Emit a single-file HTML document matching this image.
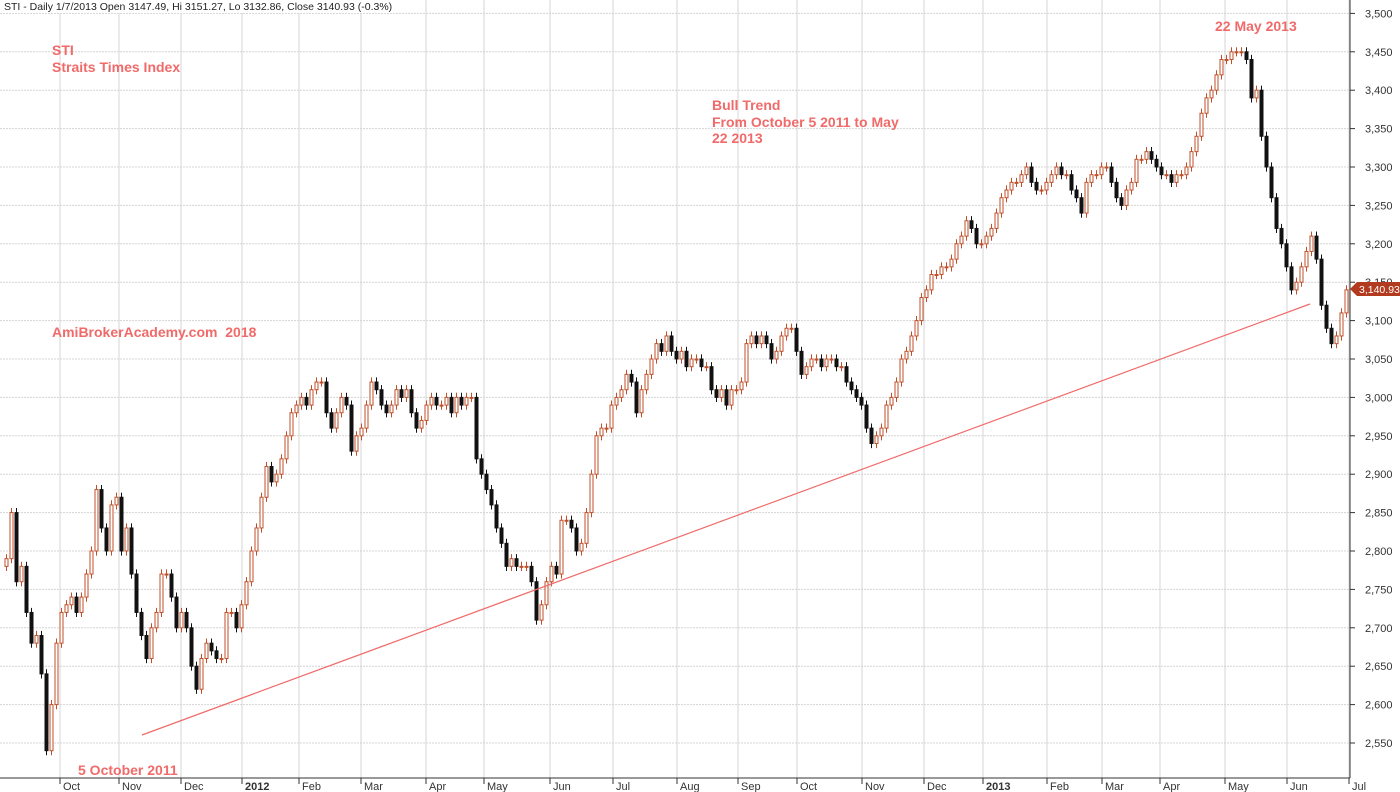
<!DOCTYPE html>
<html><head><meta charset="utf-8"><style>
body{margin:0;background:#fff;}
svg{display:block;font-family:"Liberation Sans",sans-serif;}
</style></head><body>
<svg id="c" width="1400" height="792">
<g id="grid"></g><g id="axes"></g><g id="candles"></g>
<rect x="0" y="0" width="395" height="13" fill="#fff"/>
<text x="4" y="10" font-size="10.5" fill="#222">STI - Daily 1/7/2013 Open 3147.49, Hi 3151.27, Lo 3132.86, Close 3140.93 (-0.3%)</text>
<line x1="142" y1="735" x2="1310" y2="304" stroke="#f06a6a" stroke-width="1.2"/>
<g fill="#f06a6a" font-size="14" font-weight="bold">
<text x="52" y="55">STI</text>
<text x="52" y="72">Straits Times Index</text>
<text x="712" y="110">Bull Trend</text>
<text x="712" y="127">From October 5 2011 to May</text>
<text x="712" y="143">22 2013</text>
<text x="52" y="337">AmiBrokerAcademy.com&#160;&#160;2018</text>
<text x="78" y="775">5 October 2011</text>
<text x="1215" y="31">22 May 2013</text>
</g>
<g>
<polygon points="1350,289 1357,282 1400,282 1400,296 1357,296" fill="#b23a1e"/>
<text x="1359" y="293" font-size="10.5" fill="#fff">3,140.93</text>
</g>
</svg>
<script>
const closes=[2790,2850,2760,2780,2720,2680,2690,2640,2540,2600,2680,2720,2730,2740,2720,2740,2770,2800,2880,2830,2800,2860,2870,2800,2830,2770,2720,2690,2660,2700,2720,2770,2770,2740,2700,2720,2700,2650,2620,2660,2680,2670,2660,2660,2720,2720,2700,2730,2760,2800,2830,2870,2910,2890,2900,2920,2950,2980,2990,3000,2990,3010,3020,3020,2980,2960,2980,3000,2990,2930,2950,2960,2990,3020,3010,2990,2980,2990,3010,3000,3010,2980,2960,2970,2990,3000,2990,2990,3000,2980,3000,2990,3000,3000,2920,2900,2880,2860,2830,2810,2780,2790,2780,2780,2780,2760,2710,2730,2760,2780,2770,2840,2840,2830,2800,2810,2850,2900,2950,2960,2960,2990,3000,3010,3030,3020,2980,3010,3030,3050,3070,3060,3080,3060,3050,3060,3040,3050,3050,3040,3040,3010,3000,3010,2990,3010,3010,3020,3070,3080,3070,3080,3070,3050,3060,3080,3090,3090,3060,3030,3040,3050,3050,3040,3050,3050,3040,3040,3020,3010,3000,2990,2960,2940,2950,2960,2990,3000,3020,3050,3060,3080,3100,3130,3140,3160,3160,3170,3170,3180,3200,3210,3230,3220,3200,3200,3210,3220,3240,3260,3270,3280,3280,3290,3300,3280,3270,3270,3280,3290,3300,3290,3290,3270,3260,3240,3280,3290,3290,3300,3300,3280,3260,3250,3270,3280,3310,3310,3320,3310,3300,3290,3290,3280,3290,3290,3300,3320,3340,3370,3390,3400,3420,3440,3440,3450,3450,3450,3440,3390,3400,3340,3300,3260,3220,3200,3170,3140,3150,3170,3190,3210,3180,3120,3090,3070,3080,3110,3140];
const yTicks=[2550,2600,2650,2700,2750,2800,2850,2900,2950,3000,3050,3100,3150,3200,3250,3300,3350,3400,3450,3500];
const monthLabels=["Oct","Nov","Dec","2012","Feb","Mar","Apr","May","Jun","Jul","Aug","Sep","Oct","Nov","Dec","2013","Feb","Mar","Apr","May","Jun","Jul"];
const monthX=[60,119,181,242,299,361,426,484,550,613,677,738,797,862,924,983,1047,1102,1160,1225,1287,1349];
const NS='http://www.w3.org/2000/svg';
const y=v=>743-(v-2550)*0.768;
const x=i=>5+i*5;
function mk(t,a,p){const e=document.createElementNS(NS,t);for(const k in a)e.setAttribute(k,a[k]);p.appendChild(e);return e;}
const grid=document.getElementById('grid'),axes=document.getElementById('axes'),cg=document.getElementById('candles');
yTicks.forEach(v=>{
 const l=mk('line',{x1:0,x2:1350,y1:y(v),y2:y(v),stroke:'#d4d4d4','stroke-dasharray':'2,1'},grid);
 
 
 mk('line',{x1:1350,x2:1355,y1:y(v),y2:y(v),stroke:'#333'},axes);
 const t=mk('text',{x:1365,y:y(v)+4,'font-size':'11',fill:'#333'},axes);
 t.textContent=v.toLocaleString('en-US');
 
 
});
monthLabels.forEach((m,i)=>{
 const gx=monthX[i];
 const l=mk('line',{x1:gx,x2:gx,y1:0,y2:778,stroke:'#d4d4d4'},grid);
 
 
 mk('line',{x1:gx,x2:gx,y1:778,y2:784},axes);
 axes.lastChild.setAttribute('stroke','#333');
 const t=mk('text',{x:gx+3,y:790,'font-size':'11',fill:'#333','font-weight':(m.length===4?'bold':'normal')},axes);
 t.textContent=m;
 
 
});
mk('line',{x1:1350,x2:1350,y1:0,y2:778,stroke:'#333'},axes);
mk('line',{x1:0,x2:1350,y1:778,y2:778,stroke:'#333'},axes);
closes.forEach((c,i)=>{
 const o=i?closes[i-1]:c-10, up=c>=o;
 const hi=Math.max(o,c)+6, lo=Math.min(o,c)-6;
 const col=up?'#c0502a':'#111';
 const cx=x(i)+1.5;
 const w=mk('line',{x1:cx,x2:cx,y1:y(hi),y2:y(lo),stroke:col},cg);
 
 
 const top=y(Math.max(o,c)),h=Math.max(1,y(Math.min(o,c))-top);
 const b=mk('rect',{x:x(i),y:top,width:3,height:h,fill:up?'#fff':'#111',stroke:col,'stroke-width':1},cg);
 
 
});
</script>
</body></html>
